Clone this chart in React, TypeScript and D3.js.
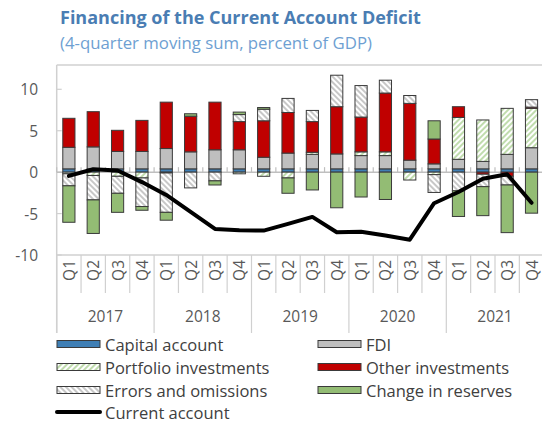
import React, { useEffect, useRef } from "react";
import * as d3 from "d3";

const years = ["2017", "2018", "2019", "2020", "2021"];
const quarters = ["Q1", "Q2", "Q3", "Q4"];

// percent of GDP, 4-quarter moving sums
const capitalAccount = [0.4, 0.4, 0.4, 0.4, 0.4, 0.4, 0.4, 0.4, 0.4, 0.4, 0.4, 0.4, 0.4, 0.4, 0.4, 0.4, 0.4, 0.4, 0.4, 0.4];
const fdi = [2.6, 2.65, 2.1, 2.1, 2.45, 2.05, 2.3, 2.3, 1.4, 1.9, 1.75, 1.8, 1.6, 1.6, 1.05, 0.6, 1.15, 0.9, 1.75, 2.55];
const portfolio = [-0.2, -0.4, -0.5, -0.7, -0.1, 0, 0, -0.2, -0.5, -0.7, 0.25, 0, 0.45, 0.45, -0.95, -0.3, 5.05, 5.0, 5.55, 4.75];
const otherInv = [3.5, 4.25, 2.55, 3.75, 5.6, 4.3, 5.75, 3.4, 4.4, 4.9, 3.7, 5.7, 4.2, 7.1, 6.85, 3.0, 1.3, -0.25, -0.5, 0.15];
const errors = [-1.45, -2.95, -2.05, -3.45, -4.75, -1.9, -1.05, 0.85, 1.4, 1.7, 1.35, 3.8, 3.8, 1.55, 0.95, -2.15, -2.25, -1.5, -1.05, 0.9];
const reserves = [-4.4, -4.05, -2.3, -0.45, -0.95, 0.3, -0.5, 0.3, 0.2, -1.85, -2.15, -4.3, -3.0, -3.3, 0, 2.2, -3.1, -3.5, -5.75, -4.95];
const currentAccount = [-0.45, 0.35, 0.2, -1.2, -2.75, -4.8, -6.85, -7.0, -7.05, -6.25, -5.4, -7.25, -7.2, -7.65, -8.15, -3.75, -2.4, -0.8, -0.25, -3.7];

const yTicks = [-10, -5, 0, 5, 10];

const seriesKeys = ["cap", "fdi", "port", "other", "err", "res"];
const seriesLabels = [
  "Capital account",
  "FDI",
  "Portfolio investments",
  "Other investments",
  "Errors and omissions",
  "Change in reserves",
];
const seriesFill = [
  "#3f7fb5",
  "#bfbfbf",
  "url(#portHatch)",
  "#c00000",
  "url(#errHatch)",
  "#93bc74",
];

const FONT = "'Segoe UI', 'Open Sans', sans-serif";

export default function App() {
  const svgRef = useRef<SVGSVGElement | null>(null);

  useEffect(() => {
    if (!svgRef.current) return;
    const svg = d3.select(svgRef.current);
    svg.selectAll("*").remove();

    const left = 56.7;
    const right = 543.7;
    const top = 65;

    const cats = years.flatMap((yr) => quarters.map((q) => `${yr}-${q}`));
    const rows = cats.map((c, i) => ({
      cat: c,
      cap: capitalAccount[i],
      fdi: fdi[i],
      port: portfolio[i],
      other: otherInv[i],
      err: errors[i],
      res: reserves[i],
    }));

    const x = d3.scaleBand<string>().domain(cats).range([left, right]).paddingInner(0.5).paddingOuter(0.25);
    const y = d3.scaleLinear().domain([-10, 10]).range([255, 89.3]);
    const bottom = y(-10);

    // patterns
    const defs = svg.append("defs");
    const err = defs
      .append("pattern")
      .attr("id", "errHatch")
      .attr("patternUnits", "userSpaceOnUse")
      .attr("width", 4)
      .attr("height", 4)
      .attr("patternTransform", "rotate(-45)");
    err.append("rect").attr("width", 4).attr("height", 4).attr("fill", "#fff");
    err.append("line").attr("x1", 1).attr("y1", 0).attr("x2", 1).attr("y2", 4).attr("stroke", "#9a9a9a").attr("stroke-width", 1.1);

    const port = defs
      .append("pattern")
      .attr("id", "portHatch")
      .attr("patternUnits", "userSpaceOnUse")
      .attr("width", 4)
      .attr("height", 4)
      .attr("patternTransform", "rotate(45)");
    port.append("rect").attr("width", 4).attr("height", 4).attr("fill", "#fff");
    port.append("line").attr("x1", 1).attr("y1", 0).attr("x2", 1).attr("y2", 4).attr("stroke", "#8cbf6a").attr("stroke-width", 1.1);

    // title
    svg.append("text")
      .attr("x", 60)
      .attr("y", 24)
      .attr("fill", "#4a7db3")
      .style("font-family", FONT)
      .style("font-size", "18px")
      .style("font-weight", "bold")
      .text("Financing of the Current Account Deficit");
    svg.append("text")
      .attr("x", 60)
      .attr("y", 49)
      .attr("fill", "#6e9fd2")
      .style("font-family", FONT)
      .style("font-size", "16.8px")
      .text("(4-quarter moving sum, percent of GDP)");

    const axisCol = "#d0d0d0";

    // plot frame (top + left)
    svg.append("line").attr("x1", left).attr("x2", 544).attr("y1", top).attr("y2", top).attr("stroke", axisCol).attr("stroke-width", 1.5);
    svg.append("line").attr("x1", left).attr("x2", left).attr("y1", top).attr("y2", 333).attr("stroke", axisCol).attr("stroke-width", 1.5);
    svg.append("line").attr("x1", left).attr("x2", 544).attr("y1", bottom).attr("y2", bottom).attr("stroke", axisCol).attr("stroke-width", 1.5);

    // y ticks and labels
    yTicks.forEach((t) => {
      svg.append("line").attr("x1", left).attr("x2", left + 5).attr("y1", y(t)).attr("y2", y(t)).attr("stroke", axisCol).attr("stroke-width", 1.2);
      svg.append("text")
        .attr("x", 38)
        .attr("y", y(t))
        .attr("text-anchor", "end")
        .attr("dominant-baseline", "central")
        .attr("fill", "#595959")
        .style("font-family", FONT)
        .style("font-size", "15.5px")
        .text(t);
    });

    // zero line + category ticks
    const step = x.step();
    const bounds = cats.map((c) => (x(c) as number) - step * 0.25).concat([right]);
    svg.append("line").attr("x1", left).attr("x2", 544).attr("y1", y(0)).attr("y2", y(0)).attr("stroke", "#bfbfbf").attr("stroke-width", 1.5);
    bounds.forEach((b) => {
      svg.append("line").attr("x1", b).attr("x2", b).attr("y1", y(0) - 5).attr("y2", y(0)).attr("stroke", "#bfbfbf").attr("stroke-width", 1.2);
    });

    // category separators
    bounds.forEach((b, i) => {
      const isYear = i % 4 === 0;
      svg.append("line")
        .attr("x1", b)
        .attr("x2", b)
        .attr("y1", bottom)
        .attr("y2", isYear ? 333 : 293)
        .attr("stroke", axisCol)
        .attr("stroke-width", 1.2);
    });

    // quarter labels
    cats.forEach((c, i) => {
      const cx = (x(c) as number) + x.bandwidth() / 2;
      svg.append("text")
        .attr("transform", `translate(${cx},${bottom + 5}) rotate(-90)`)
        .attr("text-anchor", "end")
        .attr("dominant-baseline", "central")
        .attr("fill", "#595959")
        .style("font-family", FONT)
        .style("font-size", "15.5px")
        .text(quarters[i % 4]);
    });

    // year labels
    years.forEach((yr, i) => {
      const cx = (bounds[i * 4] + bounds[i * 4 + 4]) / 2;
      svg.append("text")
        .attr("x", cx)
        .attr("y", 316)
        .attr("text-anchor", "middle")
        .attr("dominant-baseline", "central")
        .attr("fill", "#595959")
        .style("font-family", FONT)
        .style("font-size", "15.5px")
        .text(yr);
    });

    // stacked bars
    const stack = d3.stack<any>().keys(seriesKeys).offset(d3.stackOffsetDiverging);
    const layers = stack(rows);
    layers.forEach((layer, li) => {
      svg.append("g")
        .selectAll("rect")
        .data(layer.filter((d) => d[1] - d[0] !== 0))
        .enter()
        .append("rect")
        .attr("x", (d) => x(d.data.cat) as number)
        .attr("width", x.bandwidth())
        .attr("y", (d) => y(Math.max(d[0], d[1])))
        .attr("height", (d) => Math.abs(y(d[0]) - y(d[1])))
        .attr("fill", seriesFill[li])
        .attr("stroke", "#3a3a3a")
        .attr("stroke-width", 1);
    });

    // current account line
    const line = d3
      .line<number>()
      .x((_, i) => (x(cats[i]) as number) + x.bandwidth() / 2)
      .y((d) => y(d));
    svg.append("path")
      .attr("d", line(currentAccount) || "")
      .attr("fill", "none")
      .attr("stroke", "#000")
      .attr("stroke-width", 4)
      .attr("stroke-linejoin", "round")
      .attr("stroke-linecap", "round");

    // legend
    const legRows = [344, 367, 390, 412];
    const legCols = [57, 318];
    seriesLabels.forEach((lab, i) => {
      const lx = legCols[i % 2];
      const ly = legRows[Math.floor(i / 2)];
      svg.append("rect")
        .attr("x", lx)
        .attr("y", ly - 3.5)
        .attr("width", 43)
        .attr("height", 7)
        .attr("fill", seriesFill[i])
        .attr("stroke", "#3a3a3a")
        .attr("stroke-width", 1);
      svg.append("text")
        .attr("x", lx + 48)
        .attr("y", ly)
        .attr("dominant-baseline", "central")
        .attr("fill", "#404040")
        .style("font-family", FONT)
        .style("font-size", "16.5px")
        .text(lab);
    });
    svg.append("line")
      .attr("x1", 57)
      .attr("x2", 100)
      .attr("y1", legRows[3])
      .attr("y2", legRows[3])
      .attr("stroke", "#000")
      .attr("stroke-width", 4)
      .attr("stroke-linecap", "round");
    svg.append("text")
      .attr("x", 105)
      .attr("y", legRows[3])
      .attr("dominant-baseline", "central")
      .attr("fill", "#404040")
      .style("font-family", FONT)
      .style("font-size", "16.5px")
      .text("Current account");
  }, []);

  return (
    <svg
      ref={svgRef}
      width={542}
      height={424}
      style={{ position: "absolute", left: 0, top: 0, background: "#fff" }}
    />
  );
}
